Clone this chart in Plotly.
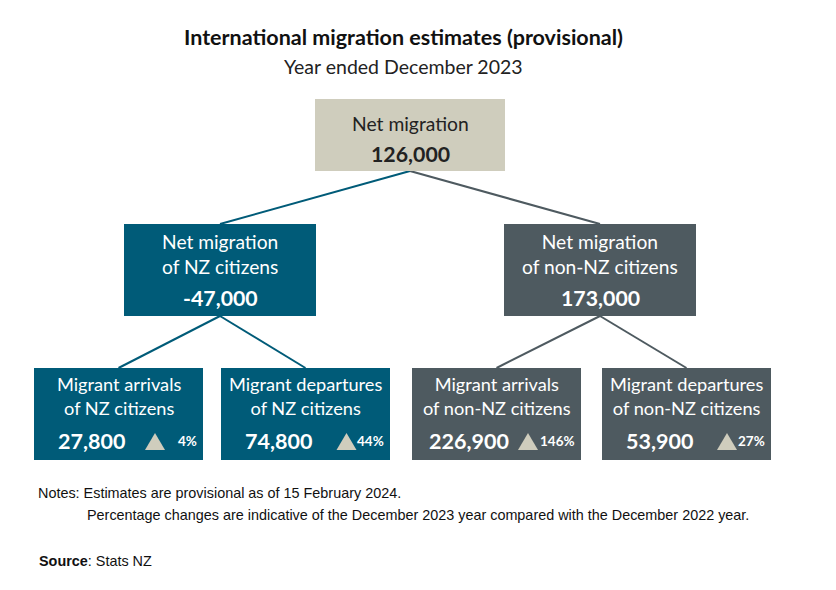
import plotly.graph_objects as go

# ---- data ----
top_label = ["Net migration"]
top_value = ["126,000"]
mid_labels = ["Net migration<br>of NZ citizens", "Net migration<br>of non-NZ citizens"]
mid_values = ["-47,000", "173,000"]
bot_labels = ["Migrant arrivals<br>of NZ citizens", "Migrant departures<br>of NZ citizens",
              "Migrant arrivals<br>of non-NZ citizens", "Migrant departures<br>of non-NZ citizens"]
bot_values = ["27,800", "74,800", "226,900", "53,900"]
bot_pct = ["4%", "44%", "146%", "27%"]
title = "International migration estimates (provisional)"
subtitle = "Year ended December 2023"
notes = ["Notes: Estimates are provisional as of 15 February 2024.",
         "Percentage changes are indicative of the December 2023 year compared with the December 2022 year."]
source = "Stats NZ"

# ---- styling / layout ----
TEAL = "#005b78"
GREY = "#4e5a60"
BEIGE = "#cfcdbd"
FONT = "Lato"
W, H = 836, 590
OFF = 8  # page body margin

top_box = (315, 99, 505, 171)
mid_boxes = [(124, 224, 316, 316), (504, 224, 696, 316)]
mid_colors = [TEAL, GREY]
bot_boxes = [(34, 368, 203, 460), (221, 368, 390, 460), (412, 368, 581, 460), (602, 368, 771, 460)]
bot_colors = [TEAL, TEAL, GREY, GREY]
tri_off = [48, 43.5, 53, 44]
TRI_TOP, TRI_BASE, TRI_HALF = 433, 450, 10

fig = go.Figure()
shapes = []
ann = []

def cx(b):
    return (b[0] + b[2]) / 2

# connector lines
for b, c in zip(mid_boxes, mid_colors):
    shapes.append(dict(type="line", x0=cx(top_box), y0=top_box[3], x1=cx(b), y1=b[1],
                       line=dict(color=c, width=2), layer="below"))
for i, b in enumerate(bot_boxes):
    p = mid_boxes[i // 2]
    shapes.append(dict(type="line", x0=cx(p), y0=p[3], x1=cx(b), y1=b[1],
                       line=dict(color=bot_colors[i], width=2), layer="below"))

# boxes
shapes.append(dict(type="rect", x0=top_box[0], y0=top_box[1], x1=top_box[2], y1=top_box[3],
                   fillcolor=BEIGE, line=dict(width=0), layer="below"))
for b, c in zip(mid_boxes, mid_colors):
    shapes.append(dict(type="rect", x0=b[0], y0=b[1], x1=b[2], y1=b[3], fillcolor=c,
                       line=dict(width=0), layer="below"))
for b, c in zip(bot_boxes, bot_colors):
    shapes.append(dict(type="rect", x0=b[0], y0=b[1], x1=b[2], y1=b[3], fillcolor=c,
                       line=dict(width=0), layer="below"))

# title
ann.append(dict(x=403, y=37, text="<b>" + title + "</b>", showarrow=False,
                font=dict(family=FONT, size=21.5, color="#111")))
ann.append(dict(x=403, y=66, text=subtitle, showarrow=False,
                font=dict(family=FONT, size=19.5, color="#222")))

# top box text
ann.append(dict(x=cx(top_box), y=123, text=top_label[0], showarrow=False,
                font=dict(family=FONT, size=19.3, color="#222")))
ann.append(dict(x=cx(top_box), y=154, text="<b>" + top_value[0] + "</b>", showarrow=False,
                font=dict(family=FONT, size=21.3, color="#222")))

# mid boxes text
for b, lab, val in zip(mid_boxes, mid_labels, mid_values):
    ann.append(dict(x=cx(b), y=254, text=lab, showarrow=False,
                    font=dict(family=FONT, size=19.2, color="white"), align="center"))
    ann.append(dict(x=cx(b), y=298, text="<b>" + val + "</b>", showarrow=False,
                    font=dict(family=FONT, size=21.3, color="white")))

# bottom boxes text + up-triangles
for b, lab, val, pct, to in zip(bot_boxes, bot_labels, bot_values, bot_pct, tri_off):
    ann.append(dict(x=cx(b), y=396, text=lab, showarrow=False,
                    font=dict(family=FONT, size=18.2, color="white"), align="center"))
    ann.append(dict(x=b[0] + 57, y=441, text="<b>" + val + "</b>", showarrow=False,
                    font=dict(family=FONT, size=21.5, color="white")))
    ann.append(dict(x=b[2] - 4, y=441, text="<b>" + pct + "</b>", showarrow=False, xanchor="right",
                    font=dict(family=FONT, size=13.5, color="white")))
    tx = b[2] - to
    shapes.append(dict(type="path",
                       path=f"M {tx - TRI_HALF},{TRI_BASE} L {tx + TRI_HALF},{TRI_BASE} L {tx},{TRI_TOP} Z",
                       fillcolor=BEIGE, line=dict(width=0), layer="above"))

# notes
NFONT = "Liberation Sans Narrow, Liberation Sans, Arial"
ann.append(dict(x=36, y=493, text=notes[0], showarrow=False, xanchor="left",
                font=dict(family=NFONT, size=14.4, color="#111")))
ann.append(dict(x=85, y=515, text=notes[1], showarrow=False, xanchor="left",
                font=dict(family=NFONT, size=14.4, color="#111")))
ann.append(dict(x=37, y=561, text="<b>Source</b>: " + source, showarrow=False, xanchor="left",
                font=dict(family=NFONT, size=14.4, color="#111")))

for a in ann:
    a.setdefault("xref", "x")
    a.setdefault("yref", "y")
    a.setdefault("yanchor", "middle")

fig.update_layout(
    width=W, height=H, margin=dict(l=0, r=0, t=0, b=0),
    paper_bgcolor="white", plot_bgcolor="white", showlegend=False,
    xaxis=dict(range=[OFF, W + OFF], visible=False, fixedrange=True),
    yaxis=dict(range=[H + OFF, OFF], visible=False, fixedrange=True),
    shapes=shapes, annotations=ann,
)
fig.write_html("out.html", config={"displayModeBar": False})
